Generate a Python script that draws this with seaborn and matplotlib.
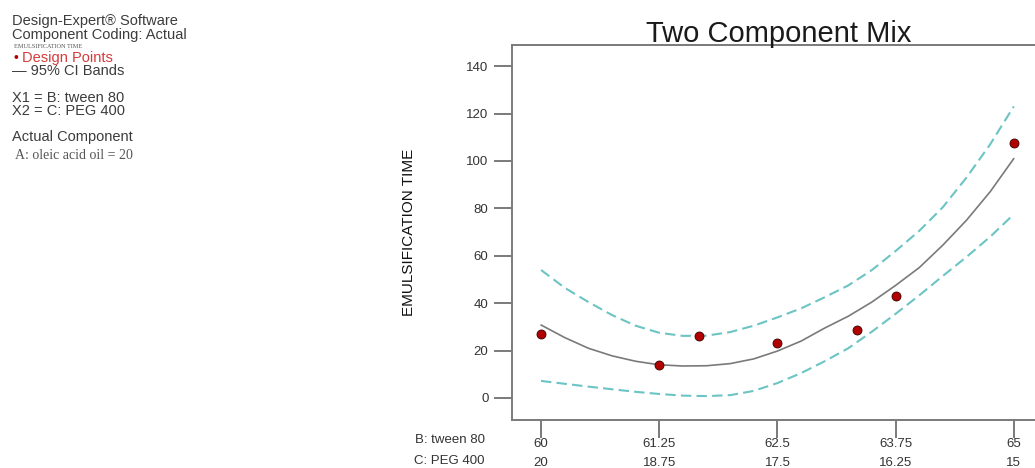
import matplotlib
matplotlib.use("Agg")

import pandas as pd
import seaborn as sns
import matplotlib.pyplot as plt

# ===============================
# data
# ===============================
tween80 = [60, 60.25, 60.5, 60.75, 61, 61.25, 61.5, 61.75, 62, 62.25, 62.5,
           62.75, 63, 63.25, 63.5, 63.75, 64, 64.25, 64.5, 64.75, 65]
fit_values = [30.8, 25.5, 21.0, 17.8, 15.5, 14.0, 13.5, 13.6, 14.5, 16.5, 19.8,
              24.0, 29.5, 34.5, 40.5, 47.5, 55.0, 64.5, 75.0, 87.0, 101.0]
upper_ci = [54.0, 46.5, 40.5, 35.0, 30.5, 27.5, 26.2, 26.3, 27.8, 30.5, 34.0,
            37.8, 42.5, 47.5, 54.0, 62.0, 70.5, 80.5, 93.0, 107.0, 123.0]
lower_ci = [7.2, 6.0, 4.8, 3.7, 2.6, 1.7, 1.0, 0.8, 1.2, 3.0, 6.3,
            10.5, 15.5, 21.0, 28.0, 35.5, 43.3, 51.5, 59.5, 68.0, 77.5]

design_tween80 = [60, 61.25, 61.67, 62.5, 63.34, 63.75, 65]
design_time = [26.8, 13.8, 26.3, 23.2, 28.8, 43.0, 107.5]

tick_tween80 = [60, 61.25, 62.5, 63.75, 65]
tick_b_labels = ['60', '61.25', '62.5', '63.75', '65']
tick_c_labels = ['20', '18.75', '17.5', '16.25', '15']
y_ticks = [0, 20, 40, 60, 80, 100, 120, 140]

curve_df = pd.DataFrame({'tween80': tween80, 'fit': fit_values,
                         'upper': upper_ci, 'lower': lower_ci})
points_df = pd.DataFrame({'tween80': design_tween80, 'time': design_time})

# ===============================
# style
# ===============================
sns.set_theme(style="white")
plt.rcParams['font.family'] = ['Liberation Sans', 'DejaVu Sans']

W, H = 1035, 468
fig = plt.figure(figsize=(W / 100, H / 100), dpi=100)
ax = fig.add_axes([512 / W, 48 / H, 533 / W, 375 / H])

band_color = '#6cc4c4'
sns.lineplot(ax=ax, data=curve_df, x='tween80', y='upper', color=band_color,
             linewidth=1.5, dashes=False, linestyle=(0, (5, 2.5)))
sns.lineplot(ax=ax, data=curve_df, x='tween80', y='lower', color=band_color,
             linewidth=1.5, dashes=False, linestyle=(0, (5, 2.5)))
sns.lineplot(ax=ax, data=curve_df, x='tween80', y='fit', color='#7a7a7a',
             linewidth=1.2)
sns.scatterplot(ax=ax, data=points_df, x='tween80', y='time', s=42,
                color='#b00000', edgecolor='#3a0000', linewidth=0.6, zorder=4)

ax.set_xlim(59.693, 65.33)
ax.set_ylim(-9.28, 148.9)

# axes frame
for side in ['left', 'top', 'bottom']:
    ax.spines[side].set_color('#7a7a7a')
    ax.spines[side].set_linewidth(1.4)
ax.spines['right'].set_visible(False)

ax.set_yticks(y_ticks)
ax.set_yticklabels([str(v) for v in y_ticks])
ax.set_xticks(tick_tween80)
ax.set_xticklabels([f'{b}\n{c}' for b, c in zip(tick_b_labels, tick_c_labels)])
for lbl in ax.get_xticklabels():
    lbl.set_linespacing(1.75)

ax.tick_params(axis='both', which='major', direction='out', length=13,
               width=1.4, color='#7a7a7a', labelcolor='#333333', labelsize=9.5)
ax.tick_params(axis='y', pad=4, left=True)
ax.tick_params(axis='x', pad=0, bottom=True)

ax.set_xlabel('')
ax.set_ylabel('EMULSIFICATION TIME', fontsize=11, color='#111111')
ax.yaxis.set_label_coords(-0.18, 0.5)

ax.set_title('Two Component Mix', fontsize=21, color='#1a1a1a', pad=2)

# row names for the two-row x axis
fig.text(485 / W, 1 - 440 / H, 'B: tween 80', ha='right', va='center',
         fontsize=9.5, color='#333333')
fig.text(485 / W, 1 - 461 / H, 'C: PEG 400', ha='right', va='center',
         fontsize=9.5, color='#333333')

# ===============================
# legend / info panel on the left
# ===============================
txt = '#3c3c3c'
fig.text(12 / W, 1 - 21 / H, 'Design-Expert® Software', va='center',
         fontsize=10.5, color=txt)
fig.text(12 / W, 1 - 35 / H, 'Component Coding: Actual', va='center',
         fontsize=10.5, color=txt)
fig.text(14 / W, 1 - 47 / H, 'EMULSIFICATION TIME', va='center',
         fontsize=4.5, color='#555555', family='Liberation Serif')
fig.text(13 / W, 1 - 58 / H, '•', va='center', fontsize=10, color='#b00000')
fig.text(22 / W, 1 - 58 / H, 'Design Points', va='center',
         fontsize=10.5, color='#d63a3a')
fig.text(12 / W, 1 - 71 / H, '— 95% CI Bands', va='center',
         fontsize=10.5, color=txt)
fig.text(12 / W, 1 - 98 / H, 'X1 = B: tween 80', va='center',
         fontsize=10.5, color=txt)
fig.text(12 / W, 1 - 111 / H, 'X2 = C: PEG 400', va='center',
         fontsize=10.5, color=txt)
fig.text(12 / W, 1 - 137 / H, 'Actual Component', va='center',
         fontsize=10.5, color=txt)
fig.text(15 / W, 1 - 156 / H, 'A: oleic acid oil = 20', va='center',
         fontsize=10, color='#555555', family='Liberation Serif')

plt.savefig('out.png', dpi=100)
plt.close()
